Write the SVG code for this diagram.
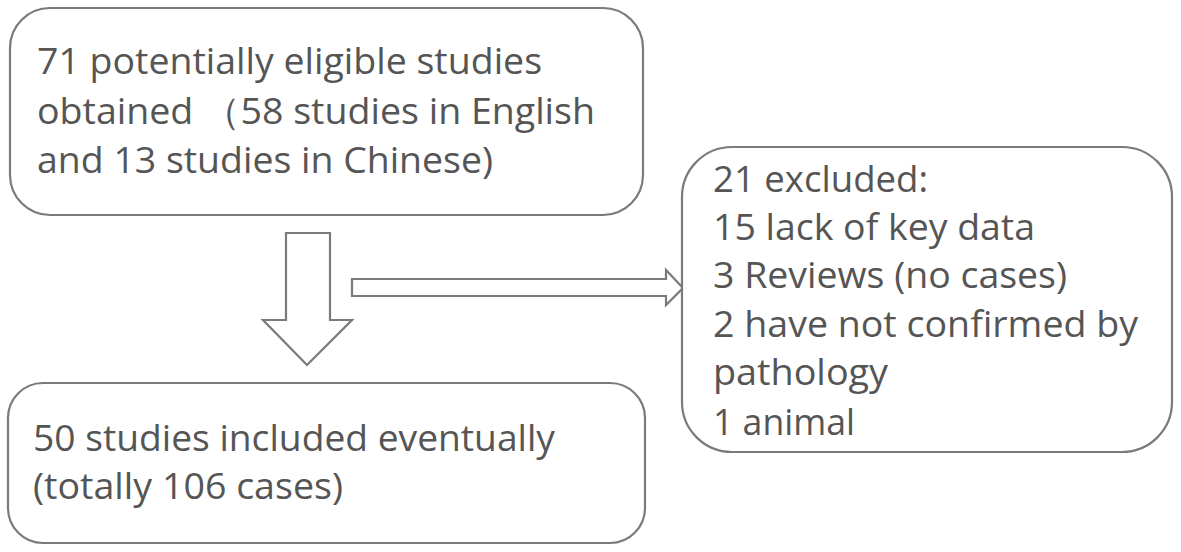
<svg xmlns="http://www.w3.org/2000/svg" width="1181" height="552" viewBox="0 0 1181 552">
<style>
.box{fill:#fff;stroke:#7a7a7a;stroke-width:2.2}
.arr{fill:#fff;stroke:#7a7a7a;stroke-width:2.2;stroke-linejoin:miter}
text{font-family:"Open Sans","Noto Sans","Liberation Sans",sans-serif;font-size:37px;fill:#555}
</style>
<rect width="1181" height="552" fill="#fff"/>
<g id="connectors">
<path class="arr" d="M286,233 H330 V320 H352 L307,365 L263,320 H286 Z"/>
<path class="arr" d="M352,279 H666 V270 L683,288 L666,305 V296 H352 Z"/>
</g>
<g id="node-obtained">
<rect class="box" x="10" y="8" width="633" height="207" rx="40"/>
<text x="37" y="74" textLength="505" lengthAdjust="spacingAndGlyphs">71 potentially eligible studies</text>
<text x="37" y="124" textLength="558" lengthAdjust="spacingAndGlyphs">obtained （58 studies in English</text>
<text x="37" y="173" textLength="456" lengthAdjust="spacingAndGlyphs">and 13 studies in Chinese)</text>
</g>
<g id="node-included">
<rect class="box" x="8" y="383" width="637" height="160" rx="35"/>
<text x="33" y="451" textLength="522" lengthAdjust="spacingAndGlyphs">50 studies included eventually</text>
<text x="33" y="499" textLength="310" lengthAdjust="spacingAndGlyphs">(totally 106 cases)</text>
</g>
<g id="node-excluded">
<rect class="box" x="682" y="147" width="490" height="305" rx="50"/>
<text x="713" y="192" textLength="215" lengthAdjust="spacingAndGlyphs">21 excluded:</text>
<text x="713" y="240" textLength="322" lengthAdjust="spacingAndGlyphs">15 lack of key data</text>
<text x="713" y="288" textLength="354" lengthAdjust="spacingAndGlyphs">3 Reviews (no cases)</text>
<text x="713" y="337" textLength="425" lengthAdjust="spacingAndGlyphs">2 have not confirmed by</text>
<text x="713" y="385" textLength="175" lengthAdjust="spacingAndGlyphs">pathology</text>
<text x="713" y="435" textLength="142" lengthAdjust="spacingAndGlyphs">1 animal</text>
</g>
</svg>
